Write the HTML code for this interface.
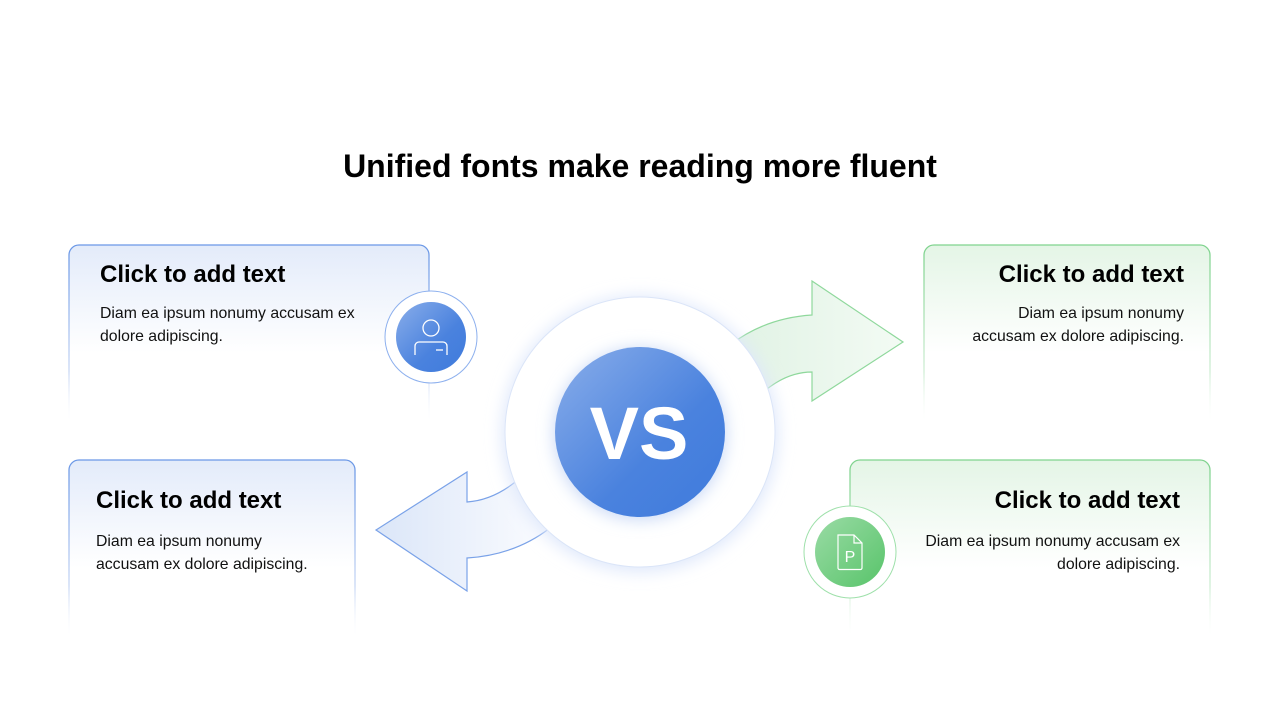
<!DOCTYPE html>
<html><head><meta charset="utf-8"><style>
html,body{margin:0;padding:0;background:#fff;}
svg{display:block;}
text{font-family:"Liberation Sans",Arial,sans-serif;}
</style></head><body>
<svg width="1280" height="720" viewBox="0 0 1280 720" xmlns="http://www.w3.org/2000/svg">
<defs>
<linearGradient id="bf" x1="0" y1="0" x2="0" y2="1"><stop offset="0" stop-color="#e3ebfa"/><stop offset="0.6" stop-color="#fff"/><stop offset="1" stop-color="#fff"/></linearGradient>
<linearGradient id="gf" x1="0" y1="0" x2="0" y2="1"><stop offset="0" stop-color="#e4f5e6"/><stop offset="0.6" stop-color="#fff"/><stop offset="1" stop-color="#fff"/></linearGradient>
<linearGradient id="bs" x1="0" y1="0" x2="0" y2="1"><stop offset="0" stop-color="#6b98e6"/><stop offset="0.7" stop-color="#c9d8f5"/><stop offset="1" stop-color="#fff" stop-opacity="0"/></linearGradient>
<linearGradient id="gs" x1="0" y1="0" x2="0" y2="1"><stop offset="0" stop-color="#7fd38e"/><stop offset="0.7" stop-color="#d0eed5"/><stop offset="1" stop-color="#fff" stop-opacity="0"/></linearGradient>
<linearGradient id="vs" x1="0" y1="0" x2="1" y2="1"><stop offset="0" stop-color="#8aaeea"/><stop offset="0.6" stop-color="#4a82de"/><stop offset="1" stop-color="#3f7bdc"/></linearGradient>
<linearGradient id="gc" x1="0" y1="0" x2="1" y2="1"><stop offset="0" stop-color="#9adba5"/><stop offset="1" stop-color="#58c46a"/></linearGradient>
<linearGradient id="ba" x1="0" y1="0" x2="1" y2="0"><stop offset="0" stop-color="#dbe6f8"/><stop offset="1" stop-color="#fbfcff"/></linearGradient>
<linearGradient id="ga" x1="0" y1="0" x2="1" y2="0"><stop offset="0" stop-color="#e0f2e4"/><stop offset="1" stop-color="#f3fbf4"/></linearGradient>
<filter id="sh" x="-30%" y="-30%" width="160%" height="160%"><feGaussianBlur stdDeviation="8"/></filter>
</defs>

<text x="640" y="177" font-size="32" font-weight="bold" text-anchor="middle" fill="#000">Unified fonts make reading more fluent</text>

<path d="M69,425 V255 a10,10 0 0 1 10,-10 H419 a10,10 0 0 1 10,10 V425" fill="url(#bf)" stroke="url(#bs)" stroke-width="1.3"/>
<path d="M69,640 V470 a10,10 0 0 1 10,-10 H345 a10,10 0 0 1 10,10 V640" fill="url(#bf)" stroke="url(#bs)" stroke-width="1.3"/>
<path d="M924,425 V255 a10,10 0 0 1 10,-10 H1200 a10,10 0 0 1 10,10 V425" fill="url(#gf)" stroke="url(#gs)" stroke-width="1.3"/>
<path d="M850,640 V470 a10,10 0 0 1 10,-10 H1200 a10,10 0 0 1 10,10 V640" fill="url(#gf)" stroke="url(#gs)" stroke-width="1.3"/>

<text x="100" y="282" font-size="24" font-weight="bold">Click to add text</text>
<text x="100" y="318" font-size="15.8" fill="#111">Diam ea ipsum nonumy accusam ex</text>
<text x="100" y="341" font-size="15.8" fill="#111">dolore adipiscing.</text>

<text x="96" y="508" font-size="24" font-weight="bold">Click to add text</text>
<text x="96" y="546" font-size="15.8" fill="#111">Diam ea ipsum nonumy</text>
<text x="96" y="569" font-size="15.8" fill="#111">accusam ex dolore adipiscing.</text>

<text x="1184" y="282" font-size="24" font-weight="bold" text-anchor="end">Click to add text</text>
<text x="1184" y="318" font-size="15.8" fill="#111" text-anchor="end">Diam ea ipsum nonumy</text>
<text x="1184" y="341" font-size="15.8" fill="#111" text-anchor="end">accusam ex dolore adipiscing.</text>

<text x="1180" y="508" font-size="24" font-weight="bold" text-anchor="end">Click to add text</text>
<text x="1180" y="546" font-size="15.8" fill="#111" text-anchor="end">Diam ea ipsum nonumy accusam ex</text>
<text x="1180" y="569" font-size="15.8" fill="#111" text-anchor="end">dolore adipiscing.</text>

<path d="M730,345 Q765,318 812,315 V281 L903,342 L812,401 V372 Q785,372 760,395 Z" fill="url(#ga)" stroke="#8fd89c" stroke-width="1.2"/>
<path d="M520,478 Q495,500 467,502 V472 L376,530 L467,591 V558 Q515,555 550,528 Z" fill="url(#ba)" stroke="#7aa2e8" stroke-width="1.2"/>

<circle cx="640" cy="434" r="138" fill="#dfe8fb" filter="url(#sh)"/>
<circle cx="640" cy="432" r="135" fill="#fff" stroke="#dbe5f8" stroke-width="1"/>
<circle cx="640" cy="434" r="86" fill="#c9d9f6" filter="url(#sh)"/>
<circle cx="640" cy="432" r="85" fill="url(#vs)"/>
<text x="639" y="459" font-size="74" font-weight="bold" fill="#fff" text-anchor="middle">VS</text>

<circle cx="431" cy="337" r="46" fill="#fff" stroke="#8db0ee" stroke-width="1"/>
<circle cx="431" cy="337" r="35" fill="url(#vs)"/>
<circle cx="431" cy="328" r="8" fill="none" stroke="#fff" stroke-width="1.3"/>
<path d="M415,355 V346 a4,4 0 0 1 4,-4 H443 a4,4 0 0 1 4,4 V355" fill="none" stroke="#fff" stroke-width="1.3"/>
<line x1="436" y1="350" x2="443" y2="350" stroke="#fff" stroke-width="1.3"/>

<circle cx="850" cy="552" r="46" fill="#fff" stroke="#9ee0aa" stroke-width="1"/>
<circle cx="850" cy="552" r="35" fill="url(#gc)"/>
<path d="M838,535 H854 L862,543 V568 a1.5,1.5 0 0 1 -1.5,1.5 H839.5 a1.5,1.5 0 0 1 -1.5,-1.5 Z M854,535 V543 H862" fill="none" stroke="#fff" stroke-width="1.2"/>
<text x="850" y="562" font-size="16" fill="#fff" text-anchor="middle">P</text>
</svg>
</body></html>
